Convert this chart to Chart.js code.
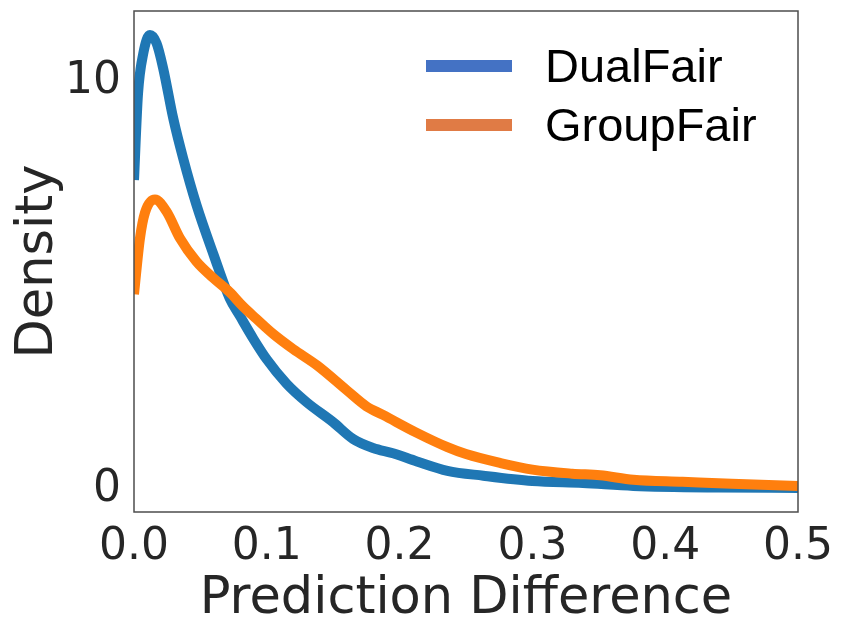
<!DOCTYPE html>
<html>
<head>
<meta charset="utf-8">
<script src="https://cdn.jsdelivr.net/npm/chart.js@4.4.1/dist/chart.umd.min.js"></script>
<style>
  html, body { margin: 0; padding: 0; background: #fff; }
  #wrap { width: 842px; height: 636px; }
</style>
</head>
<body>
<div id="wrap"><canvas id="kde" width="842" height="636"></canvas></div>
<script>
// ----- DATOS ----- //
const SERIES_NAMES = ["DualFair", "GroupFair"];
const dualX = [0, 0.003, 0.007, 0.012, 0.017, 0.022, 0.0296, 0.037, 0.047, 0.06, 0.072, 0.08, 0.09, 0.1, 0.115, 0.13, 0.15, 0.165, 0.18, 0.195, 0.213, 0.236, 0.263, 0.3, 0.338, 0.376, 0.44, 0.5];
const dualY = [7.6, 9.7, 10.7, 11.15, 10.95, 10.33, 9.1, 8.13, 6.99, 5.76, 4.7, 4.25, 3.7, 3.2, 2.6, 2.15, 1.66, 1.25, 1.03, 0.9, 0.7, 0.47, 0.35, 0.22, 0.17, 0.1, 0.06, 0.05];
const groupX = [0, 0.0045, 0.0083, 0.0158, 0.0246, 0.0346, 0.047, 0.0596, 0.072, 0.082, 0.092, 0.105, 0.12, 0.138, 0.16, 0.175, 0.1875, 0.213, 0.236, 0.25, 0.276, 0.3, 0.33, 0.351, 0.376, 0.413, 0.45, 0.5];
const groupY = [4.8, 6.17, 6.8, 7.12, 6.82, 6.17, 5.6, 5.2, 4.85, 4.5, 4.2, 3.82, 3.45, 3.05, 2.45, 2.05, 1.84, 1.4, 1.05, 0.88, 0.66, 0.5, 0.4, 0.36, 0.25, 0.2, 0.15, 0.1];
const xTicks = [0, 0.1, 0.2, 0.3, 0.4, 0.5];
const xTickLabels = ["0.0", "0.1", "0.2", "0.3", "0.4", "0.5"];
const yTicks = [0, 10];
const yTickLabels = ["0", "10"];

// ----- ESTILO ----- //
const LINE_COLORS = ["#1f77b4", "#ff7f0e"];
const LEGEND_COLORS = ["#4472c4", "#e07b45"];
const TEXT_COLOR = "#262626";

function toPoints(xs, ys) {
    return xs.map((x, i) => ({x: x, y: ys[i]}));
}

// marco alrededor del área del gráfico
const framePlugin = {
    id: "frame",
    afterDatasetsDraw(chart) {
        const a = chart.chartArea, ctx = chart.ctx;
        ctx.save();
        ctx.strokeStyle = "#4d4d4d";
        ctx.lineWidth = 1.5;
        ctx.strokeRect(a.left, a.top, a.right - a.left, a.bottom - a.top);
        ctx.restore();
    }
};

// leyenda pegada dentro del gráfico (otra fuente y otros colores)
const legendPlugin = {
    id: "insideLegend",
    afterDraw(chart) {
        const ctx = chart.ctx;
        ctx.save();
        ctx.font = "47px 'Liberation Sans', Arial, sans-serif";
        ctx.textBaseline = "alphabetic";
        SERIES_NAMES.forEach((name, i) => {
            const y = 66 + i * 59;
            ctx.fillStyle = LEGEND_COLORS[i];
            ctx.fillRect(426, y - 6, 86, 12);
            ctx.fillStyle = "#000";
            ctx.fillText(name, 545, y + 16);
        });
        ctx.restore();
    }
};

const ctx = document.getElementById("kde").getContext("2d");
new Chart(ctx, {
    type: "line",
    data: {
        datasets: [
            {
                label: SERIES_NAMES[0],
                data: toPoints(dualX, dualY),
                borderColor: LINE_COLORS[0],
                borderWidth: 10,
                pointRadius: 0,
                cubicInterpolationMode: "monotone",
                fill: false,
                clip: 0,
                order: 2
            },
            {
                label: SERIES_NAMES[1],
                data: toPoints(groupX, groupY),
                borderColor: LINE_COLORS[1],
                borderWidth: 10,
                pointRadius: 0,
                cubicInterpolationMode: "monotone",
                fill: false,
                clip: 0,
                order: 1
            }
        ]
    },
    options: {
        responsive: false,
        animation: false,
        devicePixelRatio: 1,
        layout: { padding: { top: 11, right: 44, left: 0, bottom: 0 } },
        plugins: {
            legend: { display: false },
            tooltip: { enabled: false }
        },
        scales: {
            x: {
                type: "linear",
                min: 0, max: 0.5,
                grid: { display: false, drawTicks: false },
                border: { display: false },
                afterBuildTicks: s => { s.ticks = xTicks.map(v => ({value: v})); },
                afterFit: s => { s.height = 124; },
                ticks: {
                    padding: 9,
                    color: TEXT_COLOR,
                    font: { family: "'DejaVu Sans'", size: 44 },
                    maxRotation: 0,
                    callback: (v, i) => xTickLabels[i]
                },
                title: {
                    display: true,
                    text: "Prediction Difference",
                    color: TEXT_COLOR,
                    font: { family: "'DejaVu Sans'", size: 51 },
                    padding: { top: 0, bottom: 6 }
                }
            },
            y: {
                type: "linear",
                min: -0.54, max: 11.74,
                grid: { display: false, drawTicks: false },
                border: { display: false },
                afterBuildTicks: s => { s.ticks = yTicks.map(v => ({value: v})); },
                afterFit: s => { s.width = 134; s.paddingTop = 0; s.paddingBottom = 0; },
                ticks: {
                    padding: 13,
                    color: TEXT_COLOR,
                    font: { family: "'DejaVu Sans'", size: 44 },
                    callback: (v, i) => yTickLabels[i]
                },
                title: {
                    display: true,
                    text: "Density",
                    color: TEXT_COLOR,
                    font: { family: "'DejaVu Sans'", size: 51 },
                    padding: { top: 8, bottom: 0 }
                }
            }
        }
    },
    plugins: [framePlugin, legendPlugin]
});
</script>
</body>
</html>
